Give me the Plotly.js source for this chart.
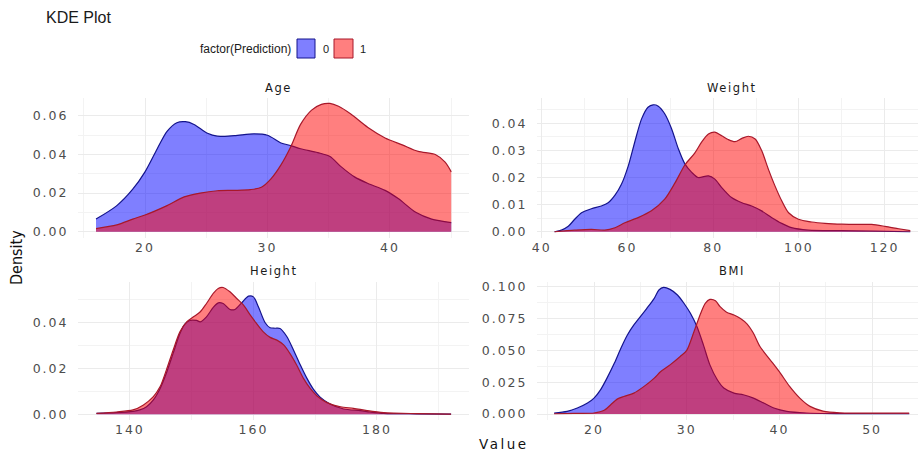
<!DOCTYPE html>
<html>
<head>
<meta charset="utf-8">
<script src="https://cdn.plot.ly/plotly-3.0.1.min.js"></script>
<style>
  html, body { margin: 0; padding: 0; background: #fff; }
  #chart { width: 918px; height: 451px; }
  g.xaxislayer-above text, g.yaxislayer-above text { letter-spacing: 2px; }
</style>
</head>
<body>
<div id="chart"></div>
<script>
// ---- Data ----
const panelNames = ["Age", "Weight", "Height", "BMI"];
const groupNames = ["0", "1"];

const ageX0 = [16,17.7,19,20,21,21.8,22.6,23.3,24,25.1,25.9,27.3,28.9,30,31.1,31.9,32.7,34.1,35.1,36,37.1,38.2,39.6,40.7,42.1,43.4,45];
const ageY0 = [0.0065,0.0135,0.022,0.031,0.043,0.052,0.0565,0.057,0.0556,0.051,0.0495,0.0498,0.0507,0.050,0.046,0.0446,0.043,0.041,0.039,0.0337,0.0284,0.025,0.0214,0.017,0.010,0.0065,0.0047];
const ageX1 = [16,17.7,19,20,21.8,23.2,24.5,25.9,27.3,28.6,29.5,30.3,31.1,31.9,32.7,33.6,34.4,35.1,35.8,36.8,38.2,39.6,41,42.3,43.7,44.5,45];
const ageY1 = [0.0016,0.0035,0.0065,0.0086,0.0135,0.018,0.020,0.0212,0.0214,0.0218,0.023,0.0275,0.0346,0.044,0.0556,0.063,0.066,0.0665,0.065,0.061,0.054,0.0486,0.045,0.0416,0.040,0.036,0.031];

const weightX0 = [43,44.6,46.2,47.7,49.3,51.6,53.9,55.5,57.1,58.6,60.2,61.7,63.3,64.8,66,67.2,68.7,70.3,71.9,73.4,75,76.5,78.9,80.4,82,84.3,86.7,89,91.3,93.7,96,98.3,102.2,110,117.8,126];
const weightY0 = [0,0.0006,0.002,0.0046,0.007,0.0085,0.0095,0.0107,0.0135,0.0175,0.0243,0.033,0.0416,0.0459,0.0468,0.0463,0.0435,0.038,0.0305,0.025,0.0219,0.020,0.0206,0.0194,0.0163,0.0126,0.0107,0.0095,0.0077,0.0052,0.0031,0.0015,0.0006,0.0004,0.0002,0];
const weightX1 = [43,47.7,51.6,54.7,57.1,59.4,62.5,65.6,68.7,71.1,73.4,75.7,77.3,78.9,80.4,82,83.5,85.1,86.7,88.2,89.8,91.3,92.9,94.4,96,97.6,99.9,103,106.1,110,113.9,117,120.1,123.3,126];
const weightY1 = [0,0.0006,0.0009,0.0006,0.0015,0.0033,0.0052,0.0077,0.012,0.018,0.0246,0.029,0.033,0.036,0.0367,0.0354,0.034,0.0332,0.0344,0.0352,0.0342,0.030,0.023,0.017,0.0114,0.007,0.0046,0.0036,0.0031,0.0028,0.0027,0.0027,0.002,0.0011,0.0004];

const heightX0 = [134.6,137.8,140.5,141.6,142.7,143.8,144.9,145.9,147,148.1,148.9,149.7,150.8,151.4,152.4,153.5,154.3,155.1,156.2,157,158.1,159.2,160,160.8,161.9,162.7,163.5,164.3,165.4,166.5,167.6,168.6,169.7,170.8,172.4,174.6,177.3,178.9,181.1,186.5,192];
const heightY0 = [0.0004,0.0007,0.0013,0.0019,0.0033,0.0063,0.0113,0.0179,0.0266,0.0353,0.0394,0.041,0.041,0.0404,0.0426,0.0467,0.0487,0.0484,0.0458,0.0458,0.0487,0.0516,0.0513,0.047,0.040,0.0378,0.0376,0.0375,0.034,0.028,0.0215,0.016,0.011,0.0075,0.0045,0.0023,0.0016,0.001,0.0004,0.0002,0.0001];
const heightX1 = [134.6,137.8,140.5,142.2,143.8,144.9,145.9,147,148.1,149.2,150.3,151.4,152.4,153.5,154.3,155.1,156.2,157.3,158.4,159.5,160.5,161.6,162.7,163.8,164.9,165.9,167,168.1,169.2,170.3,171.9,174.1,176.2,178.4,181.1,186.5,192];
const heightY1 = [0.0004,0.001,0.0019,0.0041,0.0077,0.0121,0.0193,0.028,0.036,0.0404,0.0426,0.0448,0.0484,0.0528,0.055,0.0554,0.0535,0.0506,0.0477,0.0433,0.0397,0.036,0.0336,0.0324,0.0303,0.0266,0.0215,0.0157,0.0113,0.008,0.0051,0.0033,0.0026,0.0016,0.0007,0.0003,0.0001];

const bmiX0 = [15.7,17.1,18.2,19.3,20,20.7,21.4,22.2,22.9,23.6,24.3,25,25.7,26.5,27,27.5,28.2,29,29.7,30.4,31.1,31.8,32.5,33.3,34,35.1,36.1,37.2,38.3,39.4,40.8,42.9,46.5,54];
const bmiY0 = [0.0008,0.0021,0.0047,0.0086,0.0125,0.019,0.0282,0.040,0.0517,0.0621,0.070,0.0765,0.083,0.0909,0.0974,0.0995,0.0979,0.0935,0.087,0.0791,0.0687,0.0543,0.0386,0.0269,0.0204,0.0164,0.0151,0.0125,0.0086,0.0047,0.0021,0.0008,0.0003,0.0002];
const bmiX1 = [15.7,17.8,20,21.1,21.8,22.5,23.2,24.3,25.4,26.5,27.2,28.2,29.3,30,30.8,31.5,32,32.5,33.1,33.6,34.3,35.1,35.8,36.5,37.2,37.9,39,40.1,41.1,42.2,43.3,44.7,46.5,54];
const bmiY1 = [0.0002,0.0005,0.0008,0.0029,0.0073,0.0117,0.0138,0.0164,0.0217,0.0282,0.0334,0.0386,0.0452,0.050,0.065,0.079,0.087,0.090,0.089,0.0843,0.080,0.0778,0.075,0.0708,0.0634,0.053,0.0426,0.0321,0.0217,0.0125,0.006,0.0023,0.001,0.0008];

// ---- Styling ----
const fillColors = ["rgba(0,0,255,0.5)", "rgba(255,0,0,0.5)"];
const lineColors = ["#14148c", "#a8182a"];

const series = [
  [[ageX0, ageY0], [ageX1, ageY1]],
  [[weightX0, weightY0], [weightX1, weightY1]],
  [[heightX0, heightY0], [heightX1, heightY1]],
  [[bmiX0, bmiY0], [bmiX1, bmiY1]]
];
const axisIds = [["x", "y"], ["x2", "y2"], ["x3", "y3"], ["x4", "y4"]];

const traces = [];
series.forEach((pair, p) => {
  pair.forEach((xy, g) => {
    traces.push({
      type: "scatter", mode: "lines",
      x: xy[0], y: xy[1],
      xaxis: axisIds[p][0], yaxis: axisIds[p][1],
      name: groupNames[g],
      fill: "tozeroy",
      fillcolor: fillColors[g],
      line: { color: lineColors[g], width: 1.2, shape: "spline", smoothing: 0.8 },
      showlegend: false, hoverinfo: "skip"
    });
  });
});

const W = 918, H = 451;
const px = v => v / W;
const py = v => 1 - v / H;

const tickFont = { family: "DejaVu Sans", size: 12.5, color: "#4d4d4d" };
function xAx(domain, range, dtick, minorDtick, anchor) {
  return {
    domain: domain, range: range, dtick: dtick, anchor: anchor,
    showline: false, zeroline: false, ticks: "", gridcolor: "#ebebeb", gridwidth: 1,
    minor: { dtick: minorDtick, showgrid: true, gridcolor: "#f3f3f3", gridwidth: 1 },
    tickfont: tickFont, fixedrange: true
  };
}
function yAx(domain, range, dtick, minorDtick, fmt, anchor) {
  return {
    domain: domain, range: range, dtick: dtick, tickformat: fmt, anchor: anchor,
    showline: false, zeroline: false, ticks: "outside", ticklen: 6, tickcolor: "rgba(0,0,0,0)",
    gridcolor: "#ebebeb", gridwidth: 1,
    minor: { dtick: minorDtick, showgrid: true, gridcolor: "#f3f3f3", gridwidth: 1 },
    tickfont: tickFont, fixedrange: true
  };
}

const leftD = [px(78), px(469)];
const rightD = [px(537), 1];
const topD = [py(238), py(98)];
const botD = [py(420), py(282)];

const stripFont = { family: "DejaVu Sans", size: 11.5, color: "#1a1a1a" };
const sp = t => "<span style='letter-spacing:1.6px'>" + t + "</span>";

const layout = {
  width: W, height: H,
  margin: { l: 0, r: 0, t: 0, b: 0 },
  paper_bgcolor: "#ffffff", plot_bgcolor: "#ffffff",
  showlegend: false,
  xaxis: xAx(leftD, [14.53, 46.45], 10, 5, "y"),
  yaxis: yAx(topD, [-0.0033, 0.0693], 0.02, 0.01, ".2f", "x"),
  xaxis2: xAx(rightD, [38.9, 127.8], 20, 10, "y2"),
  yaxis2: yAx(topD, [-0.0023, 0.0493], 0.01, 0.005, ".2f", "x2"),
  xaxis3: xAx(leftD, [131.6, 194.9], 20, 10, "y3"),
  yaxis3: yAx(botD, [-0.0025, 0.0578], 0.02, 0.01, ".2f", "x3"),
  xaxis4: xAx(rightD, [13.85, 54.95], 10, 5, "y4"),
  yaxis4: yAx(botD, [-0.0047, 0.1037], 0.025, 0.0125, ".3f", "x4"),
  shapes: [
    { type: "rect", xref: "paper", yref: "paper", x0: px(297), x1: px(315), y0: py(58), y1: py(39),
      fillcolor: fillColors[0], line: { color: lineColors[0], width: 1 } },
    { type: "rect", xref: "paper", yref: "paper", x0: px(334), x1: px(353), y0: py(58), y1: py(39),
      fillcolor: fillColors[1], line: { color: lineColors[1], width: 1 } }
  ],
  annotations: [
    { text: "KDE Plot", xref: "paper", yref: "paper", x: px(44), y: py(17), xanchor: "left", yanchor: "middle",
      showarrow: false, font: { family: "Liberation Sans", size: 16, color: "#1a1a1a" } },
    { text: "factor(Prediction)", xref: "paper", yref: "paper", x: px(293), y: py(48.5), xanchor: "right", yanchor: "middle",
      showarrow: false, font: { family: "Liberation Sans", size: 12, color: "#1a1a1a" } },
    { text: groupNames[0], xref: "paper", yref: "paper", x: px(326), y: py(48.5), xanchor: "center", yanchor: "middle",
      showarrow: false, font: { family: "Liberation Sans", size: 11, color: "#1a1a1a" } },
    { text: groupNames[1], xref: "paper", yref: "paper", x: px(363), y: py(48.5), xanchor: "center", yanchor: "middle",
      showarrow: false, font: { family: "Liberation Sans", size: 11, color: "#1a1a1a" } },
    { text: sp(panelNames[0]), xref: "paper", yref: "paper", x: px(278), y: py(88), xanchor: "center", yanchor: "middle",
      showarrow: false, font: stripFont },
    { text: sp(panelNames[1]), xref: "paper", yref: "paper", x: px(732), y: py(88), xanchor: "center", yanchor: "middle",
      showarrow: false, font: stripFont },
    { text: sp(panelNames[2]), xref: "paper", yref: "paper", x: px(274), y: py(271), xanchor: "center", yanchor: "middle",
      showarrow: false, font: stripFont },
    { text: sp(panelNames[3]), xref: "paper", yref: "paper", x: px(732), y: py(271), xanchor: "center", yanchor: "middle",
      showarrow: false, font: stripFont },
    { text: "<span style='letter-spacing:2.5px'>Value</span>", xref: "paper", yref: "paper", x: px(504), y: py(444), xanchor: "center", yanchor: "middle",
      showarrow: false, font: { family: "DejaVu Sans", size: 13.5, color: "#111111" } },
    { text: "<span style='font-stretch:condensed'>Density</span>", xref: "paper", yref: "paper", x: px(16), y: py(258), xanchor: "center", yanchor: "middle",
      textangle: -90, showarrow: false, font: { family: "DejaVu Sans Condensed, DejaVu Sans", size: 16, color: "#111111" } }
  ]
};

Plotly.newPlot("chart", traces, layout, { displayModeBar: false, staticPlot: true });
</script>
</body>
</html>
